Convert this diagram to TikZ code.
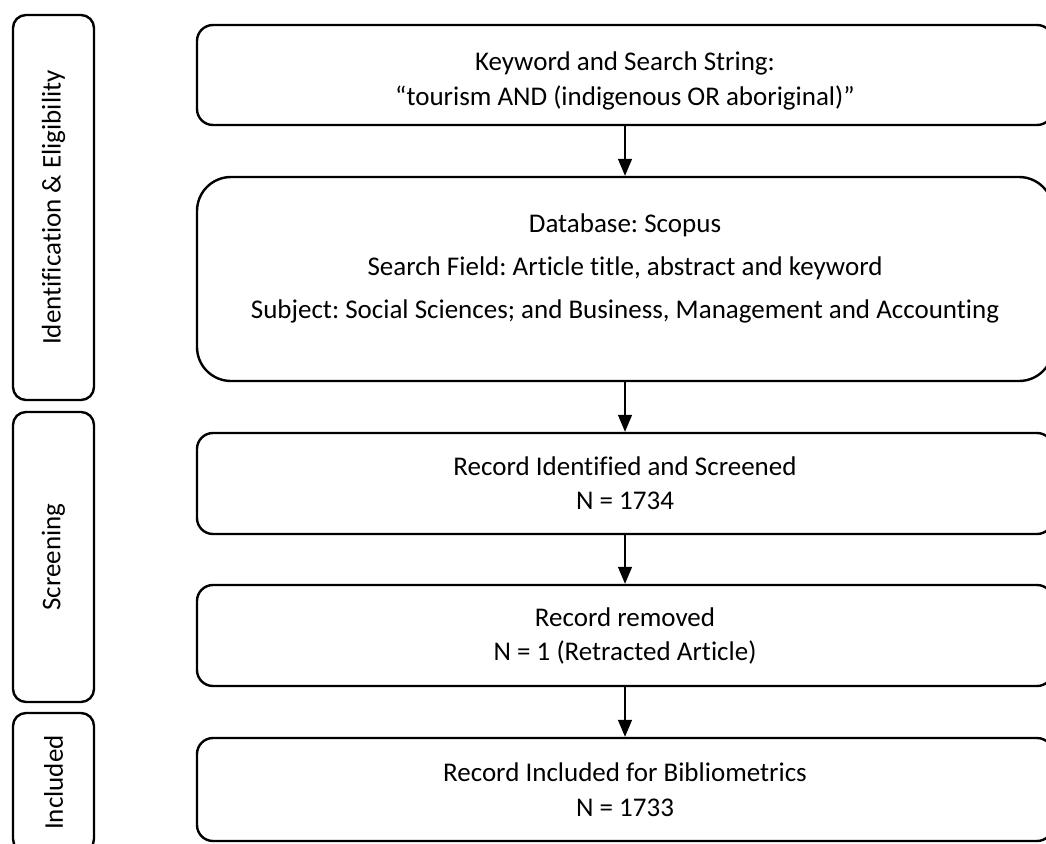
\documentclass[tikz,border=0pt]{standalone}
\usepackage{fontspec}
\setmainfont[Ligatures=NoCommon]{Carlito}
\usetikzlibrary{arrows.meta}
\begin{document}
\frenchspacing
\begin{tikzpicture}[x=1pt,y=-1pt,
  every node/.style={font=\fontsize{27}{35}\selectfont, inner sep=0pt},
  stage/.style={draw, line width=2.4pt, rounded corners=13pt, rotate=90, minimum height=81pt},
  flowbox/.style={draw, line width=2.4pt, rounded corners=16pt, minimum width=856pt, align=center},
  conn/.style={line width=1.4pt, -{Triangle[width=14pt,length=17pt]}}]
\clip (0,0) rectangle (1046,843);
\fill[white] (0,0) rectangle (1046,843);
% stage boxes
\node[stage, minimum width=385pt] (L1) at (53.5,207.5) {Identification \& Eligibility};
\node[stage, minimum width=290pt] (L2) at (53.5,557) {Screening};
\node[stage, minimum width=139pt] (L3) at (53.5,782.5) {Included};
% flow boxes
\node[flowbox, minimum height=100pt] (B1) at (625,75) {\rule{0pt}{30pt}Keyword and Search String:\\“tourism AND (indigenous OR aboriginal)”};
\node[flowbox, minimum height=204pt, rounded corners=34pt] (B2) at (625,279) {Database: Scopus\\[8pt]Search Field: Article title, abstract and keyword\\[8pt]Subject: Social Sciences; and Business, Management and Accounting\\[-9pt]\mbox{}};
\node[flowbox, minimum height=101pt] (B3) at (625,483.5) {Record Identified and Screened\\[-1pt]N = 1734};
\node[flowbox, minimum height=101pt] (B4) at (625,635.5) {Record removed\\[-1pt]N = 1 (Retracted Article)};
\node[flowbox, minimum height=103pt] (B5) at (625,789.5) {Record Included for Bibliometrics\\N = 1733};
% connectors
\draw[conn] (B1.south) -- (B2.north);
\draw[conn] (B2.south) -- (B3.north);
\draw[conn] (B3.south) -- (B4.north);
\draw[conn] (B4.south) -- (B5.north);
\end{tikzpicture}
\end{document}
